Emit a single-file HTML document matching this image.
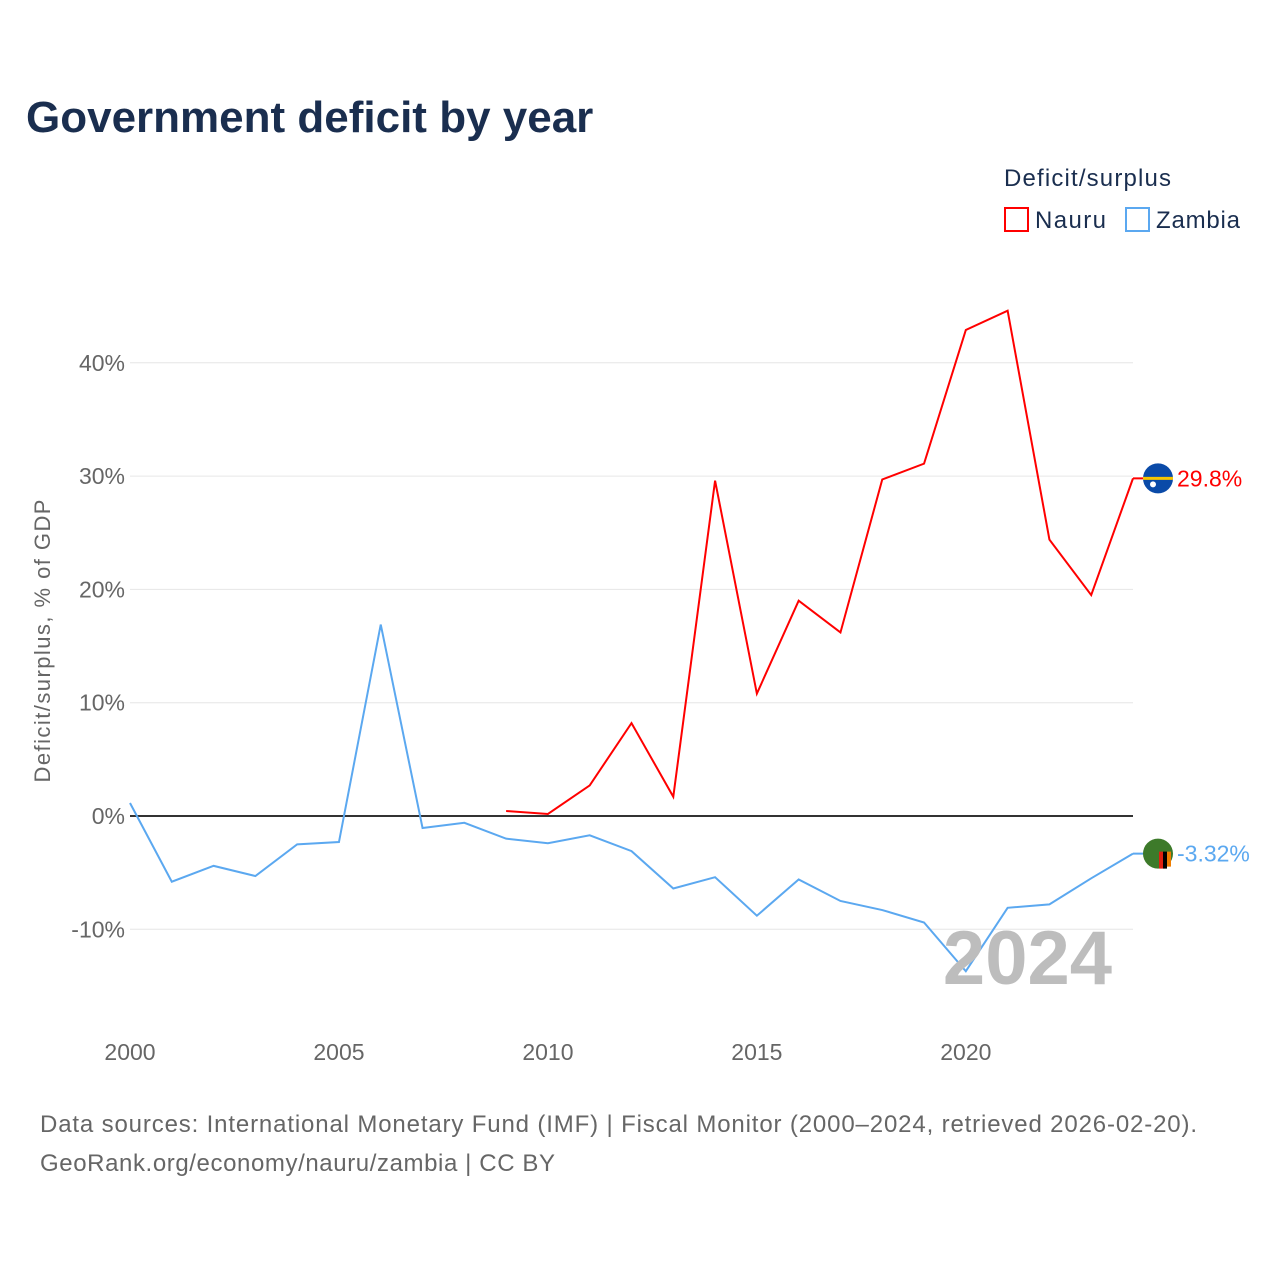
<!DOCTYPE html>
<html><head><meta charset="utf-8"><style>
body{margin:0;background:#fff;}
svg{display:block;font-family:"Liberation Sans",sans-serif;}
</style></head><body>
<svg id="chart" width="1280" height="1280" viewBox="0 0 1280 1280">
<text x="26" y="132" font-size="44" font-weight="bold" fill="#1a2e4f">Government deficit by year</text>
<g>
<text x="1004" y="186" font-size="24" fill="#1a2e4f" textLength="167">Deficit/surplus</text>
<g><rect x="1005" y="208" width="23" height="23" fill="none" stroke="#ff0000" stroke-width="2"/><text x="1035" y="228" font-size="24" fill="#1a2e4f" textLength="71">Nauru</text></g>
<g><rect x="1126" y="208" width="23" height="23" fill="none" stroke="#5ba8f0" stroke-width="2"/><text x="1156" y="228" font-size="24" fill="#1a2e4f" textLength="84">Zambia</text></g>
</g>
<text transform="translate(50,641) rotate(-90)" text-anchor="middle" font-size="22" fill="#666" textLength="283">Deficit/surplus, % of GDP</text>
<g id="grid"></g><g id="marks"></g>
<text x="1112" y="984" text-anchor="end" font-size="76" font-weight="bold" fill="#bdbdbd">2024</text>
<text x="40" y="1132" font-size="24" fill="#666" textLength="1157">Data sources: International Monetary Fund (IMF) | Fiscal Monitor (2000–2024, retrieved 2026-02-20).</text>
<text x="40" y="1171" font-size="24" fill="#666" textLength="515">GeoRank.org/economy/nauru/zambia | CC BY</text>
</svg>
<script>
const years=[2000,2001,2002,2003,2004,2005,2006,2007,2008,2009,2010,2011,2012,2013,2014,2015,2016,2017,2018,2019,2020,2021,2022,2023,2024];
const zambia=[1.15,-5.8,-4.4,-5.3,-2.5,-2.3,16.9,-1.06,-0.6,-2.0,-2.4,-1.7,-3.1,-6.4,-5.4,-8.8,-5.6,-7.5,-8.3,-9.4,-13.7,-8.1,-7.8,-5.5,-3.32];
const nauruYears=[2009,2010,2011,2012,2013,2014,2015,2016,2017,2018,2019,2020,2021,2022,2023,2024];
const nauru=[0.44,0.18,2.7,8.2,1.7,29.6,10.8,19.0,16.2,29.7,31.1,42.9,44.6,24.4,19.5,29.8];
const yTicks=[-10,0,10,20,30,40];
const xTicks=[2000,2005,2010,2015,2020];
const NS="http://www.w3.org/2000/svg";
const x=y=>130+(y-2000)*(1003/24);
const yS=v=>816-v*11.33;
const grid=document.getElementById('grid'),marks=document.getElementById('marks');
function mk(tag,attrs,parent){const e=document.createElementNS(NS,tag);for(const k in attrs)e.setAttribute(k,attrs[k]);parent.appendChild(e);return e;}
yTicks.forEach(t=>{
 const l=mk('line',{x1:130,x2:1133,y1:yS(t),y2:yS(t),stroke:t===0?'#333':'#e6e6e6','stroke-width':t===0?2:1},grid);
 
 
 const tx=mk('text',{x:125,y:yS(t)+8,'text-anchor':'end','font-size':23,fill:'#666'},grid);
 tx.textContent=t+'%';
 
 
});
xTicks.forEach(t=>{
 const tx=mk('text',{x:x(t),y:1060,'text-anchor':'middle','font-size':23,fill:'#666'},grid);
 tx.textContent=t;
 
 
});
function line(xs,vs,color,name){
 const p=mk('polyline',{points:xs.map((yr,i)=>x(yr)+','+yS(vs[i])).join(' '),fill:'none',stroke:color,'stroke-width':2},marks);
 
 
}
line(years,zambia,'#5ba8f0','zambia-line');
line(nauruYears,nauru,'#ff0000','nauru-line');
function endLabel(v,color,name,flag){
 const cx=x(2024)+25,cy=yS(v);
 mk('line',{x1:x(2024),x2:cx,y1:cy,y2:cy,stroke:color,'stroke-width':2},marks);
 const g=mk('g',{},marks);
 
 
 if(flag==='nauru'){
  mk('circle',{cx,cy,r:15,fill:'#0a4aa8'},g);
  mk('rect',{x:cx-15,y:cy-1.5,width:30,height:3,fill:'#f7c600'},g);
  mk('circle',{cx:cx-5,cy:cy+6,r:3,fill:'#fff'},g);
 }else{
  mk('circle',{cx,cy,r:15,fill:'#3d7a2a'},g);
  mk('rect',{x:cx+1,y:cy-2,width:4,height:17,fill:'#de2010'},g);
  mk('rect',{x:cx+5,y:cy-2,width:4,height:17,fill:'#000'},g);
  mk('rect',{x:cx+9,y:cy-2,width:4,height:15,fill:'#ef7d00'},g);
 }
 const t=mk('text',{x:cx+19,y:cy+8,'font-size':23,fill:color},marks);
 t.textContent=v+'%';
 
 
}
endLabel(nauru[nauru.length-1],'#ff0000','nauru','nauru');
endLabel(zambia[zambia.length-1],'#5ba8f0','zambia','zambia');
</script>
</body></html>
